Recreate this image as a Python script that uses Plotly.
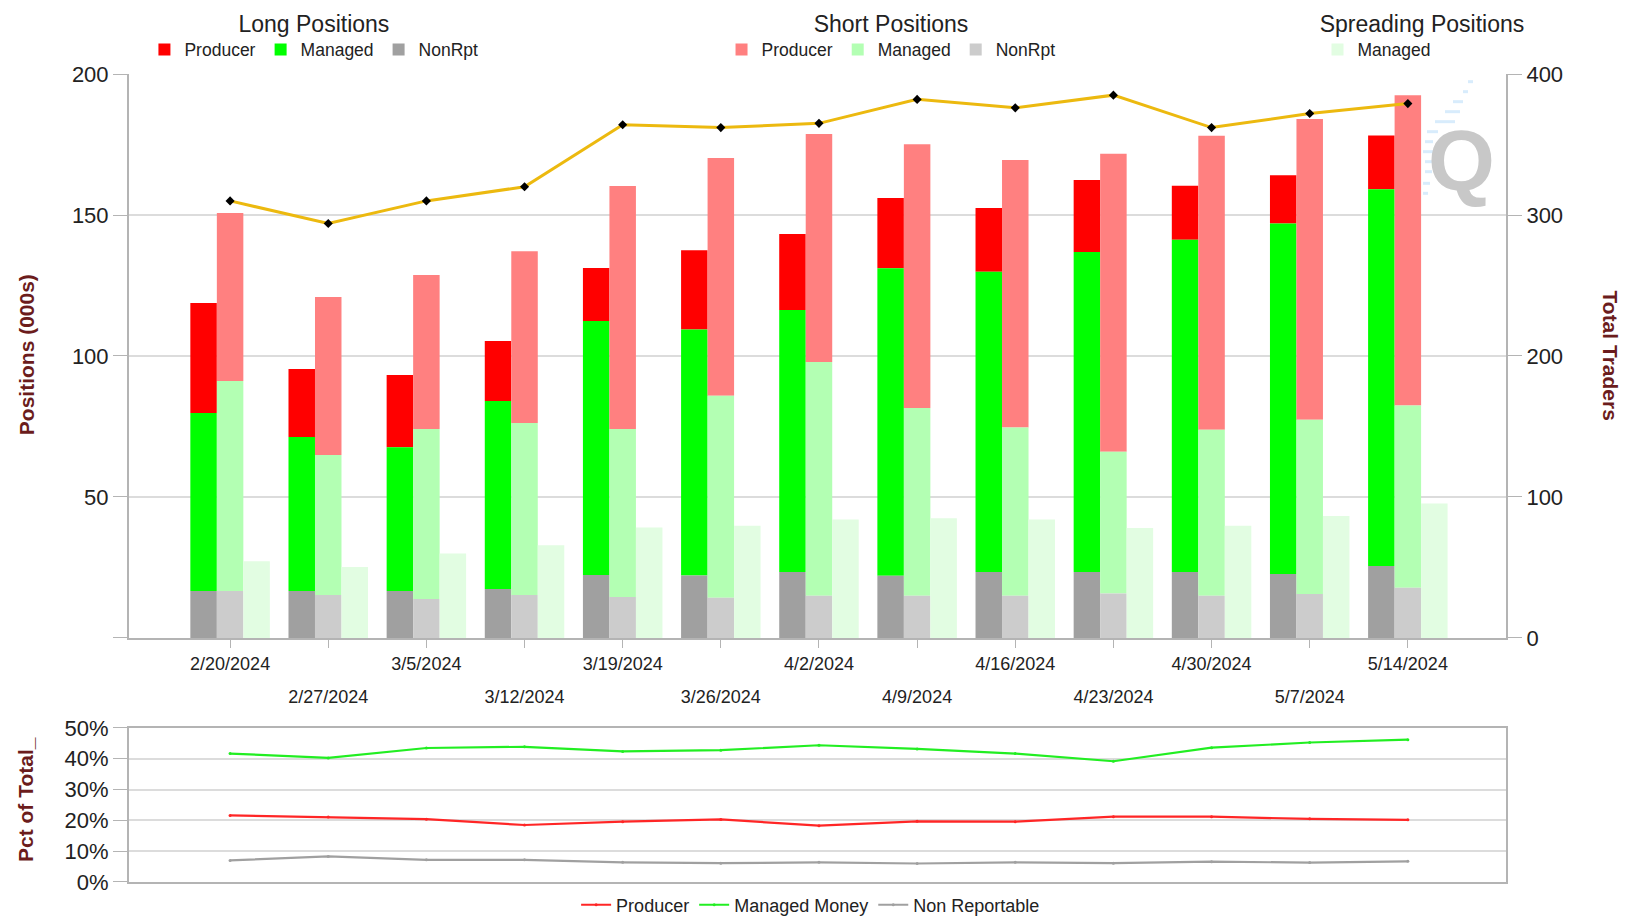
import plotly.graph_objects as go

dates = ["2/20/2024", "2/27/2024", "3/5/2024", "3/12/2024", "3/19/2024", "3/26/2024",
         "4/2/2024", "4/9/2024", "4/16/2024", "4/23/2024", "4/30/2024", "5/7/2024", "5/14/2024"]

# Long positions (000s) - stacked segments
long_nonrpt = [16.7, 16.7, 16.7, 17.4, 22.3, 22.2, 23.4, 22.1, 23.4, 23.4, 23.4, 22.7, 25.5]
long_managed = [63.1, 54.6, 50.9, 66.6, 90.1, 87.2, 92.9, 109.0, 106.5, 113.5, 117.8, 124.3, 133.6]
long_producer = [39.0, 24.1, 25.7, 21.3, 18.8, 28.1, 27.0, 24.9, 22.6, 25.5, 19.2, 17.1, 19.1]

# Short positions (000s) - stacked segments
short_nonrpt = [16.7, 15.2, 13.8, 15.2, 14.5, 14.3, 15.0, 15.0, 15.0, 15.8, 15.0, 15.6, 17.8]
short_managed = [74.4, 49.7, 60.3, 61.0, 59.6, 71.6, 82.9, 66.6, 59.6, 50.2, 58.8, 61.8, 64.6]
short_producer = [59.6, 56.0, 54.6, 60.9, 86.2, 84.3, 80.8, 93.5, 94.9, 105.7, 104.3, 106.6, 110.1]

# Spreading positions (000s)
spread_managed = [27.2, 25.2, 30.0, 32.9, 39.2, 39.8, 42.0, 42.5, 42.0, 39.0, 39.8, 43.3, 47.7]

# Total traders
total_traders = [310, 294, 310, 320, 364, 362, 365, 382, 376, 385, 362, 372, 379]

# Percent of total
pct_producer = [21.6, 21.1, 20.4, 18.5, 19.6, 20.3, 18.3, 19.7, 19.6, 21.2, 21.2, 20.5, 20.2]
pct_managed = [41.7, 40.3, 43.5, 43.9, 42.4, 42.8, 44.4, 43.2, 41.7, 39.2, 43.6, 45.3, 46.2]
pct_nonrpt = [7.0, 8.3, 7.2, 7.2, 6.4, 6.1, 6.4, 6.0, 6.4, 6.1, 6.6, 6.3, 6.7]

FONT = "Liberation Sans, Arial, sans-serif"
TITLE_COLOR = "#6b1c1c"
GRID = "#dcdcdc"
AXLINE = "#b4b4b4"

n = len(dates)
xi = list(range(n))
W = 0.27


def add(a, b):
    return [p + q for p, q in zip(a, b)]


fig = go.Figure()

zero = [0] * n
long_base_m = long_nonrpt
long_base_p = add(long_nonrpt, long_managed)
short_base_m = short_nonrpt
short_base_p = add(short_nonrpt, short_managed)

bar_specs = [
    ("Producer", long_producer, long_base_p, "#ff0000", -1.5 * W, "legend"),
    ("Managed", long_managed, long_base_m, "#00ff00", -1.5 * W, "legend"),
    ("NonRpt", long_nonrpt, zero, "#a0a0a0", -1.5 * W, "legend"),
    ("Producer", short_producer, short_base_p, "#ff8080", -0.5 * W, "legend2"),
    ("Managed", short_managed, short_base_m, "#b3ffb3", -0.5 * W, "legend2"),
    ("NonRpt", short_nonrpt, zero, "#cccccc", -0.5 * W, "legend2"),
    ("Managed", spread_managed, zero, "#e2fde2", 0.5 * W, "legend3"),
]
for name, vals, base, color, off, lg in bar_specs:
    fig.add_trace(go.Bar(
        x=xi, y=vals, base=base, name=name, width=W, offset=off,
        marker=dict(color=color, line=dict(width=0)),
        legend=lg, xaxis="x", yaxis="y",
    ))

fig.add_trace(go.Scatter(
    x=xi, y=total_traders, mode="lines+markers", name="Total Traders",
    line=dict(color="#ecb90f", width=3),
    marker=dict(color="black", size=7, symbol="diamond"),
    xaxis="x", yaxis="y2", showlegend=False,
))

for name, vals, color in [("Producer", pct_producer, "#ff2626"),
                          ("Managed Money", pct_managed, "#22ee22"),
                          ("Non Reportable", pct_nonrpt, "#a0a0a0")]:
    fig.add_trace(go.Scatter(
        x=xi, y=vals, mode="lines+markers", name=name,
        line=dict(color=color, width=2.2), marker=dict(color=color, size=3),
        xaxis="x2", yaxis="y3", legend="legend4",
    ))

# invisible trace hosting the second row of date labels
fig.add_trace(go.Scatter(x=xi, y=[None] * n, xaxis="x3", yaxis="y",
                         showlegend=False, hoverinfo="skip"))

even_text = [d if i % 2 == 0 else "" for i, d in enumerate(dates)]
odd_text = [d if i % 2 == 1 else "" for i, d in enumerate(dates)]

XR = [-1.03, 13.0]
main_dom = [0.302, 1.0]
pct_dom = [0.0, 0.1906]

tickfont = dict(family=FONT, size=22, color="#222222")
datefont = dict(family=FONT, size=18, color="#222222")

leg_common = dict(orientation="h", xanchor="center", yanchor="top", y=1.0895,
                  font=dict(family=FONT, size=17.5, color="#222222"),
                  bgcolor="rgba(0,0,0,0)", itemwidth=30, tracegroupgap=0)


def legend_cfg(title, x):
    d = dict(leg_common)
    d["x"] = x
    d["title"] = dict(text=title, side="top center",
                      font=dict(family=FONT, size=23, color="#222222"))
    return d


# faint logo streaks beside the watermark (page pixel positions -> paper coords)
streaks = [(81.7, 1468, 1473), (91.7, 1463, 1468), (101.7, 1453, 1463),
           (111.7, 1445, 1460), (121.7, 1435, 1455), (131.7, 1427, 1438),
           (141.7, 1425, 1433), (151.7, 1423, 1433), (161.7, 1425, 1433),
           (171.7, 1425, 1432), (183.3, 1423, 1430), (193.3, 1423, 1428)]
shapes = []
for py, x0, x1 in streaks:
    yy = (882 - py) / 808
    shapes.append(dict(type="line", xref="paper", yref="paper",
                       x0=(x0 - 129) / 1377, x1=(x1 - 129) / 1377, y0=yy, y1=yy,
                       line=dict(color="#d8ecfc", width=3)))

fig.update_layout(
    width=1621, height=910,
    margin=dict(l=121, r=123, t=66, b=36, autoexpand=False),
    paper_bgcolor="white", plot_bgcolor="white",
    barmode="overlay",
    font=dict(family=FONT),
    xaxis=dict(domain=[0, 1], range=XR, anchor="y", tickmode="array", tickvals=xi,
               ticktext=even_text, ticks="outside", ticklen=8, tickcolor=AXLINE,
               showline=True, linecolor=AXLINE, linewidth=2, showgrid=False,
               zeroline=False, tickfont=datefont, automargin=False),
    xaxis3=dict(range=XR, overlaying="x", anchor="y", side="bottom", tickmode="array",
                tickvals=xi, ticktext=odd_text, ticks="", showline=False, showgrid=False,
                zeroline=False, tickfont=datefont, ticklabelstandoff=46,
                automargin=False),
    yaxis=dict(domain=main_dom, range=[0, 200], tickvals=[0, 50, 100, 150, 200],
               ticktext=["", "50", "100", "150", "200"],
               ticks="outside", ticklen=14, tickcolor=AXLINE, showline=True,
               linecolor=AXLINE, linewidth=2, showgrid=True, gridcolor=GRID,
               gridwidth=1.5, zeroline=False, tickfont=tickfont, automargin=False),
    yaxis2=dict(range=[0, 400], overlaying="y", side="right", anchor="x",
                tickvals=[0, 100, 200, 300, 400], ticks="outside", ticklen=14,
                tickcolor=AXLINE, showline=True, linecolor=AXLINE, linewidth=2,
                showgrid=False, zeroline=False, tickfont=tickfont, automargin=False),
    xaxis2=dict(domain=[0, 1], range=XR, anchor="y3", matches="x", showticklabels=False,
                ticks="", showline=True, mirror=True, linecolor=AXLINE, linewidth=2,
                showgrid=False, zeroline=False, automargin=False),
    yaxis3=dict(domain=pct_dom, range=[0, 50], dtick=10, ticksuffix="%", anchor="x2",
                ticks="outside", ticklen=14, tickcolor=AXLINE, showline=True,
                mirror=True, linecolor=AXLINE, linewidth=2, showgrid=True,
                gridcolor=GRID, gridwidth=1.5, zeroline=False, tickfont=tickfont,
                automargin=False),
    legend=legend_cfg("Long Positions", 0.1343),
    legend2=legend_cfg("Short Positions", 0.5534),
    legend3=legend_cfg("Spreading Positions", 0.939),
    legend4=dict(orientation="h", xanchor="center", yanchor="middle", x=0.495, y=-0.0285,
                 font=dict(family=FONT, size=18, color="#222222"),
                 bgcolor="rgba(0,0,0,0)", itemwidth=30),
    showlegend=True,
    shapes=shapes,
    annotations=[
        dict(text="<b>Positions (000s)</b>", xref="paper", yref="paper", x=-0.0748,
             y=0.652, textangle=-90, showarrow=False, xanchor="center", yanchor="middle",
             font=dict(family=FONT, size=21, color=TITLE_COLOR)),
        dict(text="<b>Total Traders</b>", xref="paper", yref="paper", x=1.076,
             y=0.652, textangle=90, showarrow=False, xanchor="center", yanchor="middle",
             font=dict(family=FONT, size=21, color=TITLE_COLOR)),
        dict(text="<b>Pct of Total_</b>", xref="paper", yref="paper", x=-0.0748,
             y=0.1015, textangle=-90, showarrow=False, xanchor="center", yanchor="middle",
             font=dict(family=FONT, size=21, color=TITLE_COLOR)),
        dict(text="<b>Q</b>", xref="paper", yref="paper", x=0.968, y=0.894,
             showarrow=False, xanchor="center", yanchor="middle",
             font=dict(family=FONT, size=86, color="#c8c8c8")),
    ],
)

fig.write_html("out.html")
